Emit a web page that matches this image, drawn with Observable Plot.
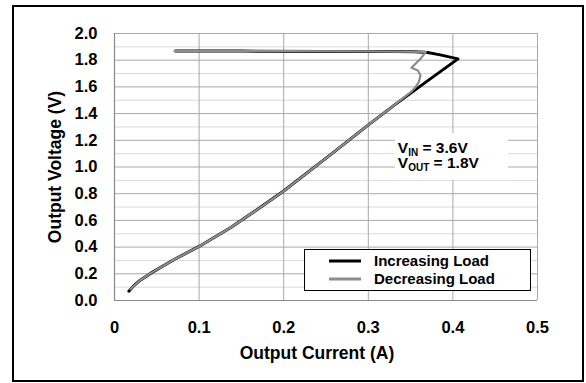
<!DOCTYPE html>
<html>
<head>
<meta charset="utf-8">
<script src="https://cdn.jsdelivr.net/npm/d3@7"></script>
<script src="https://cdn.jsdelivr.net/npm/@observablehq/plot@0.6"></script>
<style>
  html, body { margin: 0; padding: 0; background: #fff; }
  #chart { position: relative; width: 586px; height: 383px; }
</style>
</head>
<body>
<div id="chart"></div>
<script>
// Increasing load (black): current (A), voltage (V)
const incCurrent = [0.072, 0.15, 0.25, 0.33, 0.355, 0.37, 0.385, 0.406, 0.37, 0.33, 0.299, 0.26, 0.2, 0.173, 0.137, 0.10, 0.07, 0.043, 0.03, 0.022, 0.017];
const incVoltage = [1.868, 1.868, 1.866, 1.866, 1.864, 1.857, 1.84, 1.81, 1.645, 1.46, 1.31, 1.115, 0.82, 0.70, 0.545, 0.405, 0.305, 0.205, 0.15, 0.105, 0.07];
// Decreasing load (gray)
const decCurrent = [0.019, 0.022, 0.03, 0.043, 0.07, 0.10, 0.137, 0.173, 0.2, 0.26, 0.299, 0.33, 0.34, 0.35, 0.3558, 0.3597, 0.3617, 0.3586, 0.351, 0.3558, 0.3617, 0.368, 0.30, 0.20, 0.10, 0.071];
const decVoltage = [0.085, 0.105, 0.15, 0.205, 0.305, 0.405, 0.545, 0.70, 0.82, 1.115, 1.31, 1.46, 1.51, 1.56, 1.598, 1.635, 1.685, 1.723, 1.743, 1.773, 1.81, 1.862, 1.866, 1.868, 1.868, 1.87];

const xTicks = [0, 0.1, 0.2, 0.3, 0.4, 0.5];
const yMajor = [0, 0.2, 0.4, 0.6, 0.8, 1.0, 1.2, 1.4, 1.6, 1.8, 2.0];
const yMinor = [0.1, 0.3, 0.5, 0.7, 0.9, 1.1, 1.3, 1.5, 1.7, 1.9];

const seriesNames = ["Increasing Load", "Decreasing Load"];
const seriesColors = ["#000000", "#8c8c8c"];
const xTitle = "Output Current (A)";
const yTitle = "Output Voltage (V)";
const noteLines = [["V", "IN", " = 3.6V"], ["V", "OUT", " = 1.8V"]];
const noteBox = {x1: 0.332, x2: 0.4657, y1: 0.899, y2: 1.251};

const inc = incCurrent.map((c, i) => ({x: c, y: incVoltage[i]}));
const dec = decCurrent.map((c, i) => ({x: c, y: decVoltage[i]}));

const svg = Plot.plot({
  width: 586,
  height: 383,
  marginLeft: 114,
  marginRight: 49,
  marginTop: 33,
  marginBottom: 83,
  style: {fontFamily: "'Liberation Sans', Arial, sans-serif", fontSize: "16.5px", fontWeight: "bold", background: "#fff", color: "#000"},
  x: {domain: [0, 0.5]},
  y: {domain: [0, 2]},
  marks: [
    Plot.gridY(yMinor, {stroke: "#dadada", strokeOpacity: 1, strokeWidth: 1}),
    Plot.gridY(yMajor, {stroke: "#a8a8a8", strokeOpacity: 1, strokeWidth: 1}),
    Plot.gridX(xTicks, {stroke: "#a8a8a8", strokeOpacity: 1, strokeWidth: 1}),
    Plot.rect([noteBox], {x1: "x1", x2: "x2", y1: "y1", y2: "y2", fill: "#fff"}),
    Plot.ruleX([0], {stroke: "#888", strokeWidth: 1.2}),
    Plot.ruleY([0], {stroke: "#888", strokeWidth: 1.2}),
    Plot.axisY(yMajor, {tickSize: 0, tickPadding: 17, tickFormat: d => d.toFixed(1), label: null}),
    Plot.axisX(xTicks, {tickSize: 0, tickPadding: 21, tickFormat: d => d === 0 ? "0" : d.toFixed(1), label: null}),
    Plot.line(inc, {x: "x", y: "y", stroke: seriesColors[0], strokeWidth: 3, curve: "linear"}),
    Plot.line(dec, {x: "x", y: "y", stroke: seriesColors[1], strokeWidth: 2.2, curve: "linear"}),
    Plot.text([xTitle], {frameAnchor: "bottom", dy: 58, dx: -9, fontSize: 17.5, fontWeight: "bold"}),
    Plot.text([yTitle], {frameAnchor: "left", textAnchor: "middle", dx: -59, rotate: -90, fontSize: 17.5, fontWeight: "bold"})
  ]
});

const sx = svg.scale("x"), sy = svg.scale("y");
const s = d3.select(svg);

// annotation with subscripts
noteLines.forEach((parts, i) => {
  const t = s.append("text")
    .attr("x", sx.apply(noteBox.x1) + 3)
    .attr("y", sy.apply(noteBox.y2) + 20 + i * 15.5)
    .attr("text-anchor", "start")
    .attr("font-size", 15.5).attr("font-weight", "bold").attr("fill", "#000");
  t.append("tspan").text(parts[0]);
  t.append("tspan").attr("font-size", 10).attr("dy", 3).text(parts[1]);
  t.append("tspan").attr("dy", -3).text(parts[2]);
});

// legend
const lg = s.append("g");
lg.append("rect").attr("x", 304.5).attr("y", 249.5).attr("width", 226).attr("height", 41)
  .attr("fill", "#fff").attr("stroke", "#000").attr("stroke-width", 1);
seriesNames.forEach((name, i) => {
  const yy = 261 + i * 18;
  lg.append("line").attr("x1", 329).attr("x2", 361).attr("y1", yy).attr("y2", yy)
    .attr("stroke", seriesColors[i]).attr("stroke-width", 3);
  lg.append("text").attr("x", 374).attr("y", yy).attr("dy", "0.36em")
    .attr("text-anchor", "start")
    .attr("font-size", 15).attr("font-weight", "bold").attr("fill", "#000").text(name);
});

// outer frame
s.append("rect").attr("x", 13).attr("y", 6).attr("width", 570).attr("height", 375)
  .attr("fill", "none").attr("stroke", "#000").attr("stroke-width", 2);

document.getElementById("chart").appendChild(svg);
</script>
</body>
</html>
